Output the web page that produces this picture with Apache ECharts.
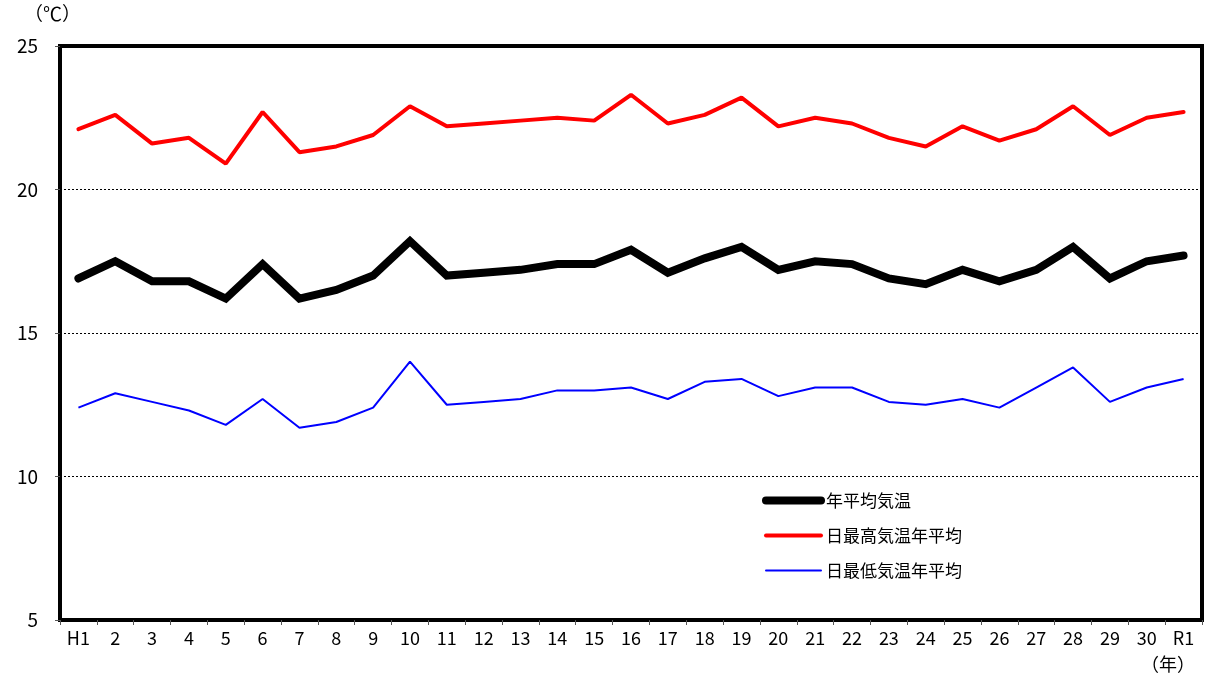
<!DOCTYPE html>
<html><head><meta charset="utf-8">
<script src="https://cdn.jsdelivr.net/npm/echarts@6/dist/echarts.min.js"></script>
<style>html,body{margin:0;padding:0;background:#fff}#c{width:1207px;height:682px}</style>
</head><body><div id="c"></div>
<script>
const categories = ['H1','2','3','4','5','6','7','8','9','10','11','12','13','14','15','16','17','18','19','20','21','22','23','24','25','26','27','28','29','30','R1'];
const avgTemp = [16.9,17.5,16.8,16.8,16.2,17.4,16.2,16.5,17.0,18.2,17.0,17.1,17.2,17.4,17.4,17.9,17.1,17.6,18.0,17.2,17.5,17.4,16.9,16.7,17.2,16.8,17.2,18.0,16.9,17.5,17.7];
const maxTemp = [22.1,22.6,21.6,21.8,20.9,22.7,21.3,21.5,21.9,22.9,22.2,22.3,22.4,22.5,22.4,23.3,22.3,22.6,23.2,22.2,22.5,22.3,21.8,21.5,22.2,21.7,22.1,22.9,21.9,22.5,22.7];
const minTemp = [12.4,12.9,12.6,12.3,11.8,12.7,11.7,11.9,12.4,14.0,12.5,12.6,12.7,13.0,13.0,13.1,12.7,13.3,13.4,12.8,13.1,13.1,12.6,12.5,12.7,12.4,13.1,13.8,12.6,13.1,13.4];
const seriesNames = ['年平均気温','日最高気温年平均','日最低気温年平均'];
const yTicks = {min:5, max:25, interval:5};

const font = '"Noto Sans CJK JP", "Liberation Sans", sans-serif';
const colors = ['#000000','#ff0000','#0000ff'];
const widths = [8,4,2];
const chart = echarts.init(document.getElementById('c'));
chart.setOption({
  animation:false,
  backgroundColor:'#fff',
  textStyle:{fontFamily:font},
  grid:{left:60,top:46,right:5,bottom:62,show:true,borderColor:'#000',borderWidth:4,backgroundColor:'transparent'},
  legend:{
    orient:'vertical', left:757, top:487, itemWidth:55, itemHeight:14, itemGap:18,
    textStyle:{fontSize:17,color:'#000',fontFamily:font},
    data:seriesNames.map((n,i)=>({name:n,
      itemStyle:{opacity:0},
      lineStyle:{color:colors[i],width:widths[i],cap:'round'}}))
  },
  graphic:[
    {type:'text',left:24,top:4,style:{text:'（℃）',fontSize:19,fill:'#000',fontFamily:font}},
    {type:'text',left:1141,top:655,style:{text:'（年）',fontSize:18,fill:'#000',fontFamily:font}}
  ],
  xAxis:{
    type:'category', data:categories, boundaryGap:true,
    axisLine:{show:true,lineStyle:{color:'#000',width:4}},
    axisTick:{show:true,length:5,lineStyle:{color:'#555',width:1}},
    axisLabel:{color:'#000',fontSize:18,margin:9,interval:0,fontFamily:font}
  },
  yAxis:{
    type:'value', min:yTicks.min, max:yTicks.max, interval:yTicks.interval,
    axisLine:{show:true,lineStyle:{color:'#000',width:4}},
    axisTick:{show:true,length:5,lineStyle:{color:'#555',width:1}},
    axisLabel:{color:'#000',fontSize:19,margin:22,fontFamily:font},
    splitLine:{show:true,lineStyle:{color:'#000',width:1,type:[2,2]}}
  },
  series:[
    {name:seriesNames[0],type:'line',data:avgTemp,symbol:'none',z:3,
     lineStyle:{color:colors[0],width:widths[0],cap:'round',join:'miter'},itemStyle:{color:colors[0]}},
    {name:seriesNames[1],type:'line',data:maxTemp,symbol:'none',z:2,
     lineStyle:{color:colors[1],width:widths[1],cap:'round'},itemStyle:{color:colors[1]}},
    {name:seriesNames[2],type:'line',data:minTemp,symbol:'none',z:2,
     lineStyle:{color:colors[2],width:widths[2]},itemStyle:{color:colors[2]}}
  ]
});
</script></body></html>
